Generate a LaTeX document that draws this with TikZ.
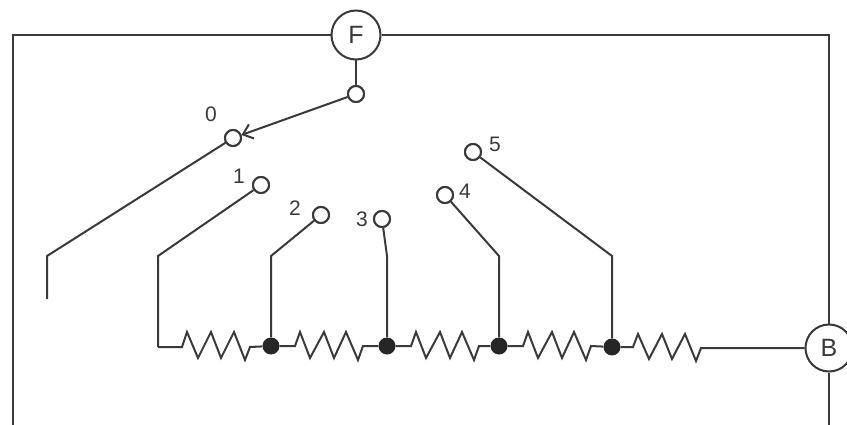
\documentclass[tikz,border=0pt]{standalone}
\usepackage{fontspec}
\setmainfont{Liberation Sans}
\usetikzlibrary{arrows.meta}
\definecolor{ink}{HTML}{3A3A3A}
\tikzset{
  wire/.style={draw=ink,line width=2pt,line join=miter},
  term/.style={circle,draw=ink,line width=2pt,fill=white,minimum size=49pt,inner sep=0pt,font=\fontsize{25}{25}\selectfont,text=ink},
  contact/.style={circle,draw=ink,line width=2pt,fill=white,minimum size=16pt,inner sep=0pt},
  junction/.style={circle,fill=black!85,minimum size=17pt,inner sep=0pt},
  lab/.style={font=\fontsize{21}{21}\selectfont,text=ink,inner sep=0pt},
  zig/.style={wire,to path={-- ++(24,0) -- ++(5,-14) -- ++(10,26) -- ++(14,-26) -- ++(10,26) -- ++(12,-26) -- ++(12,28) -- ++(5,-14) -- (\tikztotarget)}}
}
\begin{document}
\begin{tikzpicture}[x=1pt,y=-1pt]
\useasboundingbox (0,0) rectangle (847,425);
\fill[white] (0,0) rectangle (847,425);
\coordinate (FL) at (13,35);
\coordinate (FLb) at (13,425);
\coordinate (FR) at (829,35);
\coordinate (FRb) at (829,425);
\coordinate (e0a) at (47,256);
\coordinate (e0b) at (47,299);
\coordinate (k1a) at (158,256);
\coordinate (k1b) at (158,347);
\coordinate (k2) at (271,256);
\coordinate (k3) at (387,256);
\coordinate (k4) at (499,256);
\coordinate (k5) at (612,256);
\coordinate (r5) at (701,348);
\node[term] (F) at (356,35) {F};
\node[term,minimum size=47pt] (B) at (829,348) {B};
\node[contact] (c) at (356,94) {};
\node[contact] (c0) at (233,138) {};
\node[contact] (c1) at (261,185) {};
\node[contact] (c2) at (321,215) {};
\node[contact] (c3) at (382,219) {};
\node[contact] (c4) at (445,195) {};
\node[contact] (c5) at (473,152) {};
\node[junction] (j2) at (271,346) {};
\node[junction] (j3) at (387,346) {};
\node[junction] (j4) at (499,346) {};
\node[junction] (j5) at (612,347) {};
\draw[wire] (F.west) -- (FL) -- (FLb);
\draw[wire] (F.east) -- (FR) -- (B.north);
\draw[wire] (B.south) -- (FRb);
\draw[wire] (F.south) -- (c.north);
\draw[wire,-{Straight Barb[length=9pt,width=15pt,line width=2pt]}] (c) -- (c0);
\draw[wire] (c0) -- (e0a) -- (e0b);
\draw[wire] (c1) -- (k1a) -- (k1b);
\draw[wire] (c2) -- (k2) -- (j2);
\draw[wire] (c3) -- (k3) -- (j3);
\draw[wire] (c4) -- (k4) -- (j4);
\draw[wire] (c5) -- (k5) -- (j5);
\draw[wire] (k1b) -- ++(24,0) -- ++(5,-15) -- ++(11,26) -- ++(13,-26) -- ++(10,26) -- ++(13,-26) -- ++(11,28) -- ++(5,-13) -- (j2);
\draw[zig] (j2) to (j3);
\draw[zig] (j3) to (j4);
\draw[zig] (j4) to (j5);
\draw[wire] (j5) -- ++(21,0) -- ++(5,-13) -- ++(11,25) -- ++(13,-25) -- ++(10,25) -- ++(13,-25) -- ++(11,27) -- (r5) -- (B.west);
\node[contact] at (c) {};
\node[contact] at (c0) {};
\node[contact] at (c1) {};
\node[contact] at (c2) {};
\node[contact] at (c3) {};
\node[contact] at (c4) {};
\node[contact] at (c5) {};
\node[lab] (l0) at (211,114) {0};
\node[lab] (l1) at (239,176) {1};
\node[lab] (l2) at (295,208) {2};
\node[lab] (l3) at (362,219) {3};
\node[lab] (l4) at (465,191) {4};
\node[lab] (l5) at (495,144) {5};
\end{tikzpicture}
\end{document}
